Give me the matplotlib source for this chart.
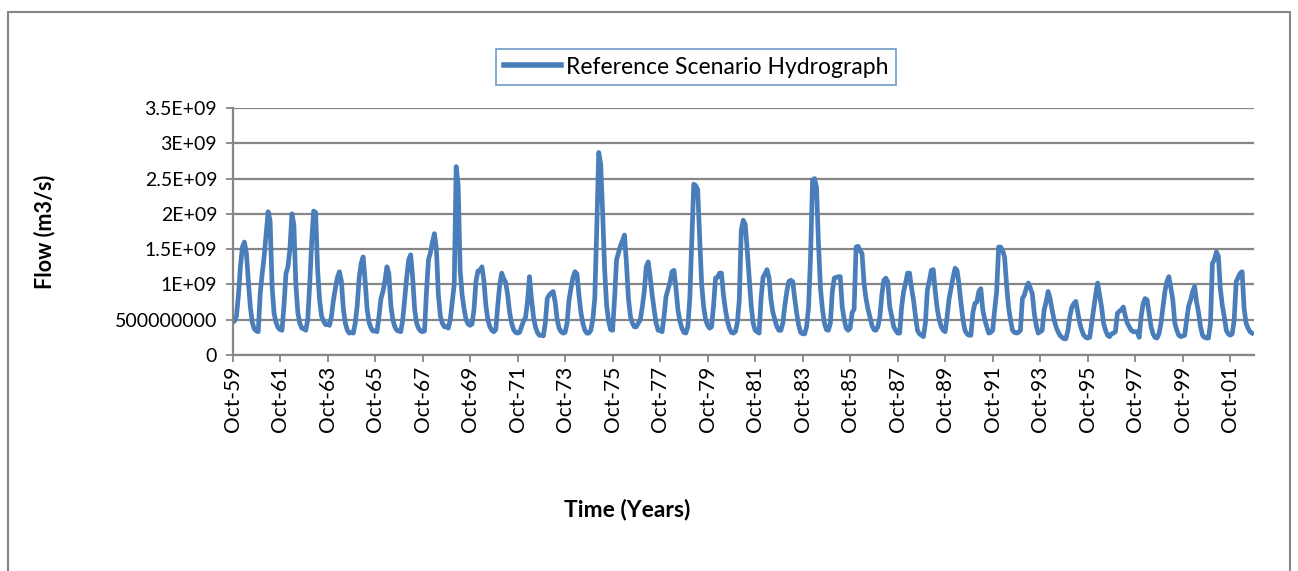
import numpy as np
import matplotlib
matplotlib.use("Agg")
import matplotlib.pyplot as plt
from matplotlib.patches import Rectangle

plt.rcParams['font.family'] = ['Lato', 'DejaVu Sans']

# Monthly flow, water years Oct..Sep, in units of 1e8 m3/s (as labelled)
y1960 = [4.6, 4.8, 5.5, 8.5, 12.5, 15.3, 16.0, 14.5, 10.5, 6.8, 4.6, 3.7]
y1961 = [3.4, 3.3, 8.7, 11.5, 14.0, 17.2, 20.3, 19.0, 9.7, 5.9, 4.6, 3.9]
y1962 = [3.6, 3.5, 7.0, 11.5, 12.5, 15.0, 20.0, 18.5, 10.0, 6.0, 4.5, 3.8]
y1963 = [3.7, 3.5, 5.0, 10.0, 16.0, 20.4, 20.2, 12.0, 7.8, 5.5, 4.8, 4.3]
y1964 = [4.4, 4.2, 5.5, 7.8, 9.5, 11.0, 11.8, 10.5, 6.5, 4.5, 3.5, 3.1]
y1965 = [3.2, 3.1, 4.5, 7.0, 11.0, 13.0, 13.9, 10.5, 6.5, 4.6, 3.8, 3.4]
y1966 = [3.4, 3.3, 5.5, 8.0, 9.0, 10.5, 12.5, 11.5, 7.0, 5.0, 4.0, 3.5]
y1967 = [3.4, 3.3, 5.0, 8.0, 11.0, 13.5, 14.2, 11.0, 6.5, 4.5, 3.8, 3.4]
y1968 = [3.3, 3.4, 9.0, 13.5, 14.5, 16.0, 17.2, 15.0, 8.5, 5.5, 4.5, 4.0]
y1969 = [4.0, 3.8, 5.0, 7.5, 10.0, 26.7, 24.0, 12.0, 8.5, 6.5, 5.0, 4.4]
y1970 = [4.2, 4.4, 6.5, 10.5, 11.9, 12.0, 12.5, 10.5, 7.0, 5.0, 4.0, 3.5]
y1971 = [3.3, 3.6, 7.0, 10.0, 11.6, 10.8, 10.3, 8.5, 6.0, 4.5, 3.6, 3.2]
y1972 = [3.1, 3.2, 4.0, 4.8, 5.3, 7.5, 11.1, 8.0, 5.5, 4.0, 3.2, 2.8]
y1973 = [2.8, 2.7, 4.5, 8.0, 8.5, 8.8, 9.0, 7.5, 5.0, 3.8, 3.3, 3.1]
y1974 = [3.2, 4.5, 7.8, 9.5, 11.0, 11.8, 11.5, 8.5, 6.0, 4.5, 3.5, 3.1]
y1975 = [3.1, 3.5, 5.0, 8.0, 18.0, 28.7, 27.0, 20.0, 12.0, 7.0, 4.8, 3.6]
y1976 = [3.5, 8.0, 13.5, 14.5, 15.5, 16.2, 17.0, 13.0, 8.0, 5.5, 4.5, 4.0]
y1977 = [4.0, 4.5, 5.0, 6.8, 9.0, 12.5, 13.2, 11.0, 8.5, 6.4, 4.5, 3.5]
y1978 = [3.5, 3.3, 5.5, 8.3, 9.3, 10.3, 11.8, 12.0, 9.5, 6.4, 4.8, 3.8]
y1979 = [3.2, 3.1, 4.0, 8.0, 16.0, 24.2, 24.0, 23.4, 16.5, 10.0, 6.8, 5.0]
y1980 = [4.2, 3.8, 4.0, 7.0, 10.9, 11.0, 11.6, 11.6, 8.5, 6.4, 4.8, 3.8]
y1981 = [3.2, 3.1, 3.3, 4.5, 7.8, 17.7, 19.1, 18.5, 14.9, 11.0, 7.0, 4.5]
y1982 = [3.5, 3.3, 3.1, 8.0, 11.0, 11.5, 12.1, 11.0, 7.8, 6.0, 5.0, 4.0]
y1983 = [3.5, 3.5, 4.5, 7.0, 9.0, 10.4, 10.6, 10.4, 8.0, 5.9, 4.2, 3.2]
y1984 = [3.0, 3.0, 4.0, 6.8, 14.0, 24.8, 25.0, 23.8, 15.8, 9.5, 6.5, 4.5]
y1985 = [3.6, 3.5, 4.5, 9.0, 10.9, 11.0, 11.1, 11.1, 6.8, 5.0, 3.8, 3.5]
y1986 = [3.8, 6.0, 6.5, 15.3, 15.4, 14.8, 14.4, 10.2, 8.0, 6.5, 5.4, 4.2]
y1987 = [3.6, 3.5, 4.0, 5.4, 8.5, 10.6, 10.9, 10.4, 6.8, 5.5, 4.0, 3.5]
y1988 = [3.1, 3.1, 6.8, 9.0, 10.2, 11.6, 11.6, 9.5, 7.8, 5.5, 3.5, 3.0]
y1989 = [2.8, 2.6, 4.5, 9.2, 10.5, 12.0, 12.1, 9.0, 6.5, 5.0, 4.0, 3.5]
y1990 = [3.3, 5.5, 8.0, 9.5, 11.0, 12.3, 12.0, 10.0, 7.3, 5.0, 3.5, 3.0]
y1991 = [2.8, 2.8, 6.0, 7.3, 7.5, 9.0, 9.4, 6.4, 5.0, 4.0, 3.1, 3.2]
y1992 = [3.5, 6.4, 9.0, 15.3, 15.3, 14.8, 13.9, 10.0, 6.8, 5.0, 3.5, 3.2]
y1993 = [3.1, 3.2, 3.5, 8.0, 8.5, 9.5, 10.2, 9.5, 8.7, 5.9, 4.2, 3.1]
y1994 = [3.3, 3.5, 6.4, 7.5, 9.0, 8.0, 6.4, 5.0, 4.0, 3.3, 2.8, 2.5]
y1995 = [2.3, 2.3, 3.5, 5.5, 6.8, 7.3, 7.6, 6.0, 4.5, 3.5, 2.8, 2.5]
y1996 = [2.4, 2.5, 4.5, 6.5, 8.5, 10.2, 8.5, 6.8, 4.5, 3.5, 2.8, 2.6]
y1997 = [3.0, 3.1, 3.3, 5.9, 6.2, 6.4, 6.8, 5.5, 4.5, 4.0, 3.5, 3.3]
y1998 = [3.3, 3.3, 2.5, 5.5, 7.3, 8.0, 7.8, 5.9, 4.0, 3.0, 2.5, 2.4]
y1999 = [3.0, 4.5, 6.8, 9.0, 10.4, 11.1, 9.5, 7.8, 4.5, 3.5, 2.8, 2.6]
y2000 = [2.7, 2.8, 5.0, 7.0, 7.8, 9.0, 9.7, 7.5, 6.0, 4.0, 2.8, 2.5]
y2001 = [2.4, 2.4, 4.5, 13.0, 13.5, 14.6, 14.0, 9.4, 7.0, 5.4, 3.5, 3.0]
y2002 = [2.8, 3.0, 5.0, 10.4, 11.0, 11.6, 11.8, 6.6, 4.5, 3.8, 3.3, 3.1]

years = [y1960, y1961, y1962, y1963, y1964, y1965, y1966, y1967, y1968, y1969,
         y1970, y1971, y1972, y1973, y1974, y1975, y1976, y1977, y1978, y1979,
         y1980, y1981, y1982, y1983, y1984, y1985, y1986, y1987, y1988, y1989,
         y1990, y1991, y1992, y1993, y1994, y1995, y1996, y1997, y1998, y1999,
         y2000, y2001, y2002]

x_tick_labels = ["Oct-59", "Oct-61", "Oct-63", "Oct-65", "Oct-67", "Oct-69",
                 "Oct-71", "Oct-73", "Oct-75", "Oct-77", "Oct-79", "Oct-81",
                 "Oct-83", "Oct-85", "Oct-87", "Oct-89", "Oct-91", "Oct-93",
                 "Oct-95", "Oct-97", "Oct-99", "Oct-01"]
y_tick_values = [0, 5e8, 1e9, 1.5e9, 2e9, 2.5e9, 3e9, 3.5e9]
y_tick_labels = ["0", "500000000", "1E+09", "1.5E+09", "2E+09", "2.5E+09",
                 "3E+09", "3.5E+09"]
series_name = "Reference Scenario Hydrograph"

flow = np.concatenate([np.array(v) for v in years]) * 1e8
months = np.arange(len(flow))

W, H = 1298, 571
fig = plt.figure(figsize=(W / 100, H / 100), dpi=100)
fig.patch.set_facecolor('white')

# chart-area border
fig.add_artist(Rectangle((8 / W, -0.02), (1290 - 8) / W, 1.02 - 12 / H,
                         transform=fig.transFigure, fill=False,
                         edgecolor='#868686', linewidth=1.5))

left, right, top, bottom = 232.5, 1254, 108, 355
ax = fig.add_axes([left / W, 1 - bottom / H, (right - left) / W, (bottom - top) / H])

line_color = '#4A7EBB'
grid_color = '#868686'
ax.plot(months, flow, color=line_color, linewidth=3.4, solid_joinstyle='round',
        label=series_name)

ax.set_xlim(0, len(flow))
ax.set_ylim(0, 3.5e9)
ax.set_xticks(np.arange(len(x_tick_labels)) * 24)
ax.set_xticklabels(x_tick_labels, rotation=90, fontsize=15)
ax.set_yticks(y_tick_values)
ax.set_yticklabels(y_tick_labels, fontsize=14)

ax.grid(axis='y', color=grid_color, linewidth=1.6)
ax.set_axisbelow(True)
for s in ['top', 'right']:
    ax.spines[s].set_visible(False)
for s in ['left', 'bottom']:
    ax.spines[s].set_color(grid_color)
    ax.spines[s].set_linewidth(1.6)
ax.tick_params(axis='both', colors=grid_color, labelcolor='black', length=5,
               width=1.3, direction='out')
ax.tick_params(axis='x', pad=3)
ax.tick_params(axis='y', pad=6)

ax.set_ylabel("Flow (m3/s)", fontsize=15.5, fontweight='bold')
ax.yaxis.set_label_coords((45 - left) / (right - left), 0.5)
ax.yaxis.label.set_va('center')
ax.set_xlabel("Time (Years)", fontsize=16.5, fontweight='bold')
ax.xaxis.set_label_coords((627 - left) / (right - left), -(509 - bottom) / (bottom - top))
ax.xaxis.label.set_va('center')

leg = ax.legend(loc='center', bbox_to_anchor=(696 / W, 1 - 67 / H),
                bbox_transform=fig.transFigure, fontsize=16.5, frameon=True,
                fancybox=False, handlelength=2.5, handletextpad=0.2,
                borderpad=0.33, borderaxespad=0)
leg.get_frame().set_edgecolor('#4F81BD')
leg.get_frame().set_linewidth(1.2)
for h in leg.get_lines():
    h.set_linewidth(4)

fig.savefig("out.png", dpi=100, facecolor='white')
